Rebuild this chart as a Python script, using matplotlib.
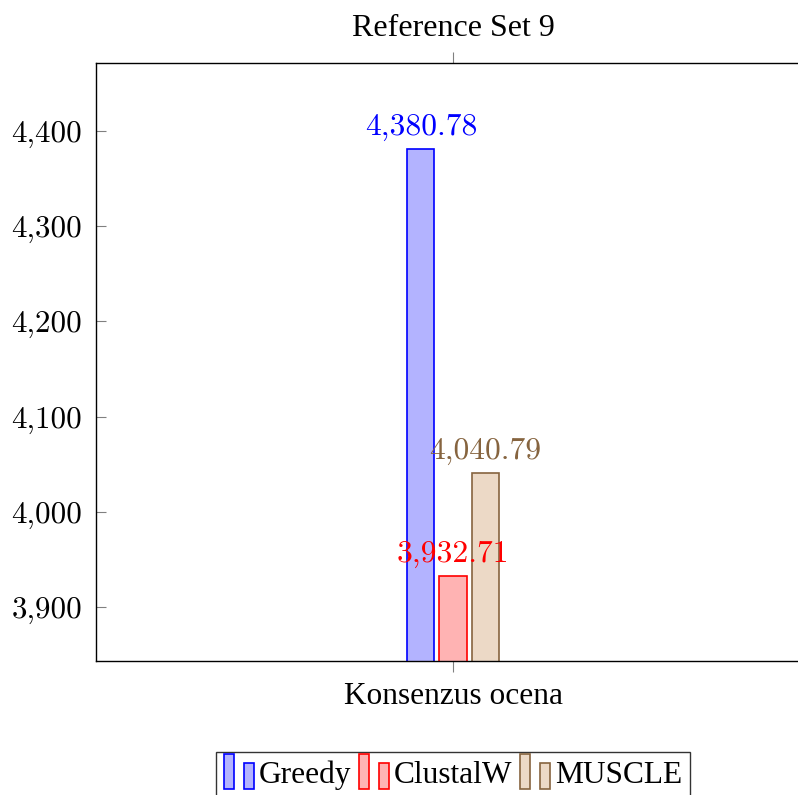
import numpy as np
import matplotlib
matplotlib.use("Agg")
import matplotlib.pyplot as plt
import matplotlib.patches as patches
from matplotlib.legend_handler import HandlerBase
from matplotlib.ticker import FuncFormatter

# Donnees du graphique
categories = ["Konsenzus ocena"]
series_names = ["Greedy", "ClustalW", "MUSCLE"]
values = [4380.78, 3932.71, 4040.79]
yticks = [3900, 4000, 4100, 4200, 4300, 4400]

edge_colors = ["#0000ff", "#ff0000", "#86643f"]
fill_colors = ["#b3b3ff", "#ffb3b3", "#ecd9c6"]
label_colors = ["#0000ff", "#ff0000", "#86643f"]

TEXT_FONT = "Liberation Serif"
NUM_FONT = "cmr10"


class TwoBarHandler(HandlerBase):
    """Petit symbole de legende a deux barres (style pgfplots ybar)"""
    def create_artists(self, legend, orig_handle, xdescent, ydescent,
                       width, height, fontsize, trans):
        fc = orig_handle.get_facecolor()
        ec = orig_handle.get_edgecolor()
        w = width * 0.32
        r1 = patches.Rectangle((-xdescent, -ydescent - 0.2 * height), w, height * 1.45,
                               facecolor=fc, edgecolor=ec, lw=1.2, transform=trans)
        r2 = patches.Rectangle((-xdescent + width * 0.62, -ydescent - 0.2 * height), w, height * 1.05,
                               facecolor=fc, edgecolor=ec, lw=1.2, transform=trans)
        return [r1, r2]


fig = plt.figure(figsize=(7.98, 7.95), dpi=100)
ax = fig.add_axes([96 / 798, 1 - 661 / 795, 714 / 798, 598 / 795])

x = np.arange(len(categories))
width = 0.076
offsets = [-0.09, 0.0, 0.09]

handles = []
for i, name in enumerate(series_names):
    bars = ax.bar(x + offsets[i], [values[i]], width, bottom=0,
                  color=fill_colors[i], edgecolor=edge_colors[i], linewidth=1.2,
                  label=name, zorder=2)
    handles.append(bars.patches[0])
    for b, v in zip(bars.patches, [values[i]]):
        ax.annotate(f"{v:,.2f}", (b.get_x() + b.get_width() / 2, v),
                    xytext=(0, 6), textcoords="offset points",
                    ha="center", va="bottom", fontsize=22.7,
                    color=label_colors[i], family=NUM_FONT, zorder=3)

ax.set_xlim(-1, 1)
ax.set_ylim(3843.3, 4471.4)
ax.set_yticks(yticks)
ax.yaxis.set_major_formatter(FuncFormatter(lambda v, p: f"{int(v):,}"))
ax.set_xticks(x)
ax.set_xticklabels([])

ax.tick_params(axis="y", direction="in", length=7, color="#808080", width=0.8,
               left=True, right=True, labelsize=22.3, pad=10)
ax.tick_params(axis="x", direction="out", length=8, color="#808080", width=0.8,
               bottom=True, top=True)
for lab in ax.get_yticklabels():
    lab.set_family(NUM_FONT)

for s in ax.spines.values():
    s.set_linewidth(1.0)
    s.set_color("black")

ax.text(0.5, 1 - (697 - 63) / 598, categories[0], transform=ax.transAxes, ha="center", va="center",
        fontsize=22.6, family=TEXT_FONT)
fig.text(453 / 798, 1 - 28 / 795, "Reference Set 9", ha="center", va="center",
         fontsize=23, family=TEXT_FONT)

leg = fig.legend(handles, series_names, handler_map={patches.Rectangle: TwoBarHandler()},
                 loc="upper center", bbox_to_anchor=(453 / 798, 1 - 752 / 795),
                 ncol=3, frameon=True, fancybox=False, edgecolor="black",
                 prop={"family": TEXT_FONT, "size": 22.6},
                 handlelength=1.0, handletextpad=0.1, columnspacing=0.25,
                 borderpad=0.25, handleheight=0.8, borderaxespad=0)
leg.get_frame().set_linewidth(1.0)

fig.savefig("out.png", dpi=100)
